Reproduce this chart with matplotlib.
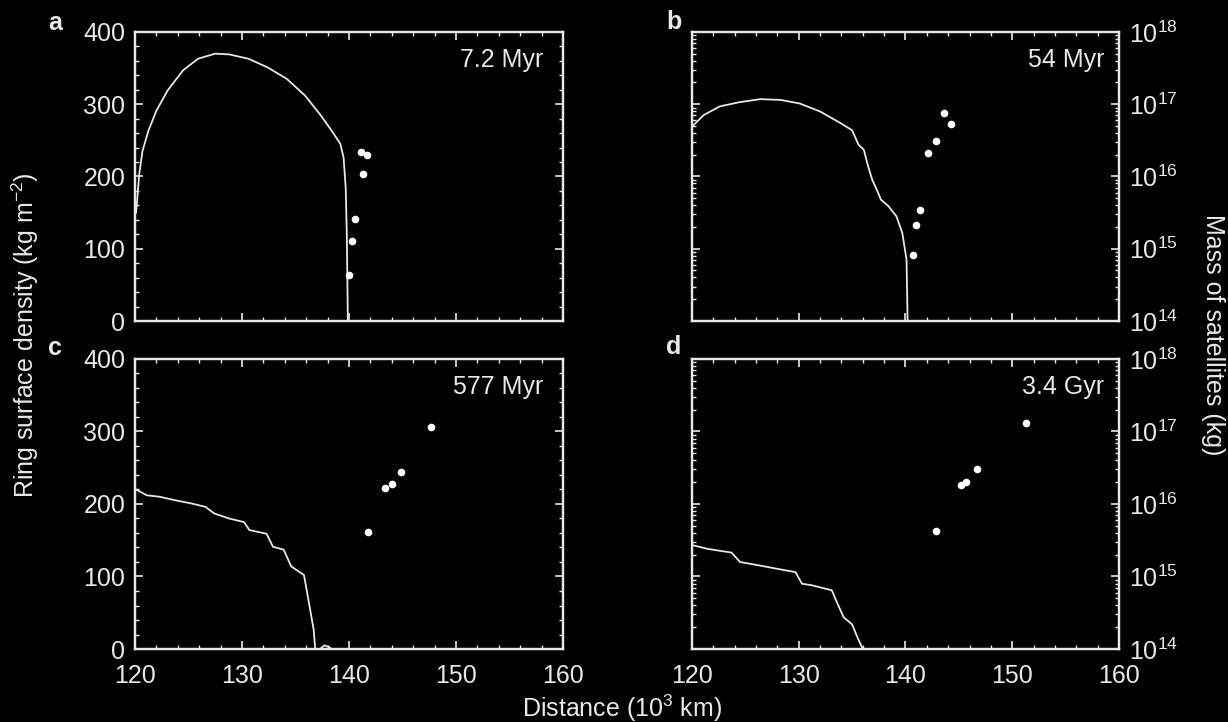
import numpy as np
import matplotlib
matplotlib.use("Agg")
import matplotlib.pyplot as plt
from matplotlib.ticker import MultipleLocator, LogLocator, NullFormatter

# ring surface density profiles (x in 10^3 km, sigma in kg m^-2)
xa = [120.1, 120.2, 120.4, 120.7, 121.25, 122.0, 123.05, 124.5, 125.9, 127.5, 128.8,
      130.6, 132.4, 134.2, 135.9, 137.4, 138.4, 139.2, 139.5, 139.7, 139.8, 139.9]
sa = [150, 166, 203, 235, 263, 291, 319, 347, 363, 370, 369,
      363, 351, 335, 312, 284, 263, 245, 226, 184, 120, 0]

xb = [120.0, 121.1, 122.6, 124.5, 126.4, 128.3, 130.1, 132.0, 133.9, 135.0, 135.6,
      136.1, 136.5, 136.9, 137.3, 137.7, 138.4, 139.15, 139.7, 140.1, 140.2]
sb = [269, 285, 297, 303, 307, 306, 301, 290, 274, 264, 244,
      237, 214, 195, 182, 168, 159, 145, 122, 85, 0]

xc = [120.1, 121.1, 122.3, 123.8, 125.2, 126.6, 127.4, 128.8, 130.2, 130.7, 132.3,
      132.9, 133.9, 134.6, 135.8, 136.1, 136.7, 136.85, 137.3, 137.7, 138.1, 138.4]
sc = [220, 212, 210, 205, 201, 196, 187, 180, 175, 164, 159,
      141, 137, 114, 102, 77, 27, 0, 0, 5, 3, 0]

xd = [120.1, 121.5, 123.7, 124.5, 126.4, 128.2, 129.7, 130.3, 131.2, 133.1, 133.5,
      134.2, 135.0, 135.5, 136.0]
sd = [143, 138, 133, 120, 115, 110, 106, 90, 88, 81, 67,
      44, 34, 16, 0]

# satellites: distance (10^3 km) and mass (kg)
sat_xa = [141.15, 141.7, 141.3, 140.55, 140.3, 140.0]
sat_ma = [2.2e16, 2.0e16, 1.1e16, 2.6e15, 1.26e15, 4.3e14]

sat_xb = [143.6, 144.3, 142.85, 142.1, 141.4, 140.95, 140.75]
sat_mb = [7.6e16, 5.4e16, 3.1e16, 2.1e16, 3.4e15, 2.1e15, 8.1e14]

sat_xc = [141.8, 143.4, 144.0, 144.9, 147.7]
sat_mc = [4.1e15, 1.66e16, 1.9e16, 2.8e16, 1.17e17]

sat_xd = [142.9, 145.2, 145.7, 146.7, 151.3]
sat_md = [4.3e15, 1.8e16, 2.0e16, 3.0e16, 1.3e17]

letters = ["a", "b", "c", "d"]
times = ["7.2 Myr", "54 Myr", "577 Myr", "3.4 Gyr"]

plt.rcParams["font.family"] = ["Liberation Sans", "DejaVu Sans"]
plt.rcParams["mathtext.fontset"] = "custom"
plt.rcParams["mathtext.rm"] = "Liberation Sans"

fg = "#e8e8e8"
fs = 18
fig = plt.figure(figsize=(12.28, 7.22), dpi=100, facecolor="black")

# panel boxes in figure fractions: left, bottom, width, height
boxes = [[0.1099, 0.5554, 0.3485, 0.4003],
         [0.5635, 0.5554, 0.3477, 0.4003],
         [0.1099, 0.1011, 0.3485, 0.4017],
         [0.5635, 0.1011, 0.3477, 0.4017]]

curves = [(xa, sa), (xb, sb), (xc, sc), (xd, sd)]
sats = [(sat_xa, sat_ma), (sat_xb, sat_mb), (sat_xc, sat_mc), (sat_xd, sat_md)]

for i in range(4):
    ax = fig.add_axes(boxes[i])
    ax.set_facecolor("black")
    ax2 = ax.twinx()

    x, s = curves[i]
    ax.plot(x, s, color=fg, lw=1.3)
    ax.set_xlim(120, 160)
    ax.set_ylim(0, 400)

    sx, sm = sats[i]
    ax2.plot(sx, sm, "o", color="white", ms=5.5, mec="none")
    ax2.set_yscale("log")
    ax2.set_ylim(1e14, 1e18)

    for a in (ax, ax2):
        for sp in a.spines.values():
            sp.set_color(fg)
            sp.set_linewidth(1.6)

    ax.xaxis.set_major_locator(MultipleLocator(10))
    ax.xaxis.set_minor_locator(MultipleLocator(2))
    ax.tick_params(axis="x", which="both", direction="in", top=True, bottom=True,
                   colors=fg, labelsize=fs, pad=11)
    ax.tick_params(axis="x", which="major", length=6, width=1.2)
    ax.tick_params(axis="x", which="minor", length=3, width=1.0)
    if i < 2:
        ax.tick_params(axis="x", labelbottom=False)

    if i % 2 == 0:
        # linear density axis, ticks on both sides
        ax.yaxis.set_major_locator(MultipleLocator(100))
        ax.yaxis.set_minor_locator(MultipleLocator(20))
        ax.tick_params(axis="y", which="both", direction="in", left=True, right=True,
                       labelleft=True, labelright=False, colors=fg, labelsize=fs, pad=7)
        ax.tick_params(axis="y", which="major", length=6, width=1.2)
        ax.tick_params(axis="y", which="minor", length=3, width=1.0)
        ax2.tick_params(axis="y", which="both", left=False, right=False,
                        labelleft=False, labelright=False)
    else:
        # log mass axis, ticks on both sides
        ax.tick_params(axis="y", which="both", left=False, right=False,
                       labelleft=False, labelright=False)
        ax2.yaxis.set_major_locator(LogLocator(base=10, numticks=10))
        ax2.yaxis.set_minor_locator(LogLocator(base=10, subs=np.arange(2, 10), numticks=10))
        ax2.yaxis.set_minor_formatter(NullFormatter())
        ax2.tick_params(axis="y", which="both", direction="in", left=True, right=True,
                        labelleft=False, labelright=True, colors=fg, labelsize=fs, pad=7)
        ax2.tick_params(axis="y", which="major", length=6, width=1.2)
        ax2.tick_params(axis="y", which="minor", length=3, width=1.0)

    ax.text(0.955 if i % 2 == 0 else 0.965, 0.903, times[i], transform=ax.transAxes,
            ha="right", va="center", color=fg, fontsize=fs)

# panel letters
fig.text(55 / 1228, 1 - 23 / 722, letters[0], color=fg, fontsize=fs, fontweight="bold",
         ha="center", va="center")
fig.text(674 / 1228, 1 - 22 / 722, letters[1], color=fg, fontsize=fs, fontweight="bold",
         ha="center", va="center")
fig.text(55 / 1228, 1 - 348 / 722, letters[2], color=fg, fontsize=fs, fontweight="bold",
         ha="center", va="center")
fig.text(674 / 1228, 1 - 347 / 722, letters[3], color=fg, fontsize=fs, fontweight="bold",
         ha="center", va="center")

fig.text(25 / 1228, 1 - 335 / 722, "Ring surface density (kg m$^{-2}$)", rotation=90,
         color=fg, fontsize=fs, ha="center", va="center")
fig.text(1213 / 1228, 1 - 335 / 722, "Mass of satellites (kg)", rotation=270,
         color=fg, fontsize=fs, ha="center", va="center")
fig.text(622 / 1228, 1 - 708 / 722, "Distance (10$^{3}$ km)", color=fg, fontsize=fs,
         ha="center", va="center")

fig.savefig("out.png", dpi=100, facecolor="black")
